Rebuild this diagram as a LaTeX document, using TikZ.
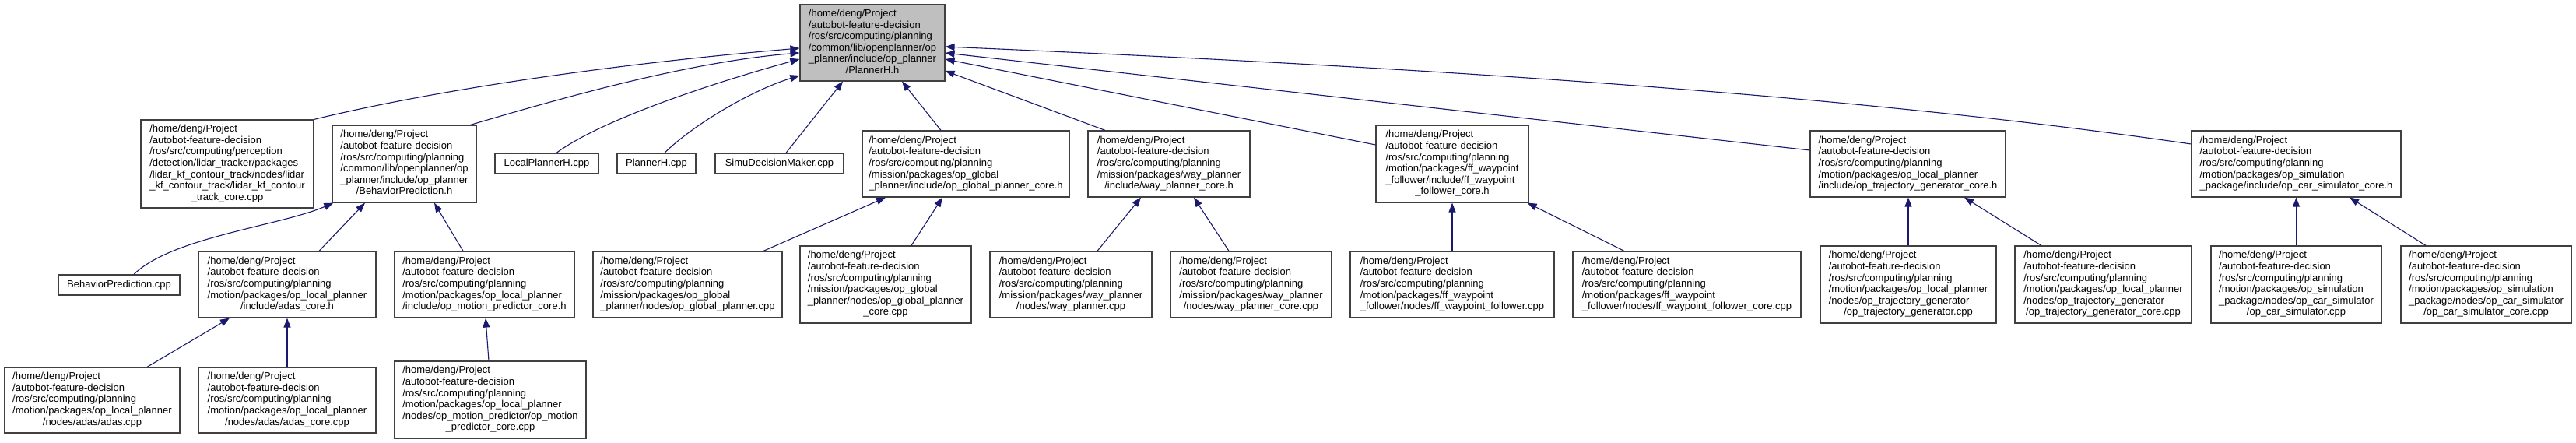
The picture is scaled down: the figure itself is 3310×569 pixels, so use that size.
\documentclass[tikz,border=0pt]{standalone}
\usepackage{fontspec}
\setmainfont{Liberation Sans}
\usetikzlibrary{arrows.meta}
\newcommand\dlines[2]{\begin{tabular}{@{}l@{}}#1\\\multicolumn{1}{@{}c@{}}{#2}\end{tabular}}
\newcommand\hd{/home/deng/Project\\/autobot-feature-decision\\/ros/src/computing/planning}
\definecolor{edgeblue}{RGB}{25,25,112}
\begin{document}
\begin{tikzpicture}[x=1pt,y=-1pt,
 box/.style={draw=black!75, line width=1.2pt, fill=white, inner sep=0pt, font=\fontsize{13}{14.6}\selectfont},
 rootbox/.style={box, fill=black!25},
 edge/.style={draw=edgeblue, line width=1.1pt, -{Triangle[length=12pt,width=9pt]}},
]
\fill[white] (0,0) rectangle (3310,569);
\useasboundingbox (0,0) rectangle (3310,569);

% level 0
\node[rootbox, minimum width=186pt, minimum height=98pt] (root) at (1121,55)
 {\dlines{\hd\\/common/lib/openplanner/op\\\_planner/include/op\_planner}{/PlannerH.h}};

% level 1
\node[box, minimum width=222pt, minimum height=113pt] (A) at (292,210.5)
 {\dlines{/home/deng/Project\\/autobot-feature-decision\\/ros/src/computing/perception\\/detection/lidar\_tracker/packages\\/lidar\_kf\_contour\_track/nodes/lidar\\\_kf\_contour\_track/lidar\_kf\_contour}{\_track\_core.cpp}};
\node[box, minimum width=185pt, minimum height=99pt] (B) at (519.5,210.5)
 {\dlines{\hd\\/common/lib/openplanner/op\\\_planner/include/op\_planner}{/BehaviorPrediction.h}};
\node[box, minimum width=133pt, minimum height=26pt] (C) at (702.5,210) {LocalPlannerH.cpp};
\node[box, minimum width=101pt, minimum height=26pt] (D) at (843.5,210) {PlannerH.cpp};
\node[box, minimum width=165pt, minimum height=26pt] (E) at (1001.5,210) {SimuDecisionMaker.cpp};
\node[box, minimum width=266pt, minimum height=85pt] (F) at (1241,210.5)
 {\dlines{\hd\\/mission/packages/op\_global}{\_planner/include/op\_global\_planner\_core.h}};
\node[box, minimum width=208pt, minimum height=85pt] (G) at (1502,210.5)
 {\dlines{\hd\\/mission/packages/way\_planner}{/include/way\_planner\_core.h}};
\node[box, minimum width=196pt, minimum height=99pt] (H) at (1866,210.5)
 {\dlines{\hd\\/motion/packages/ff\_waypoint\\\_follower/include/ff\_waypoint}{\_follower\_core.h}};
\node[box, minimum width=251pt, minimum height=85pt] (I) at (2451.5,210.5)
 {\dlines{\hd\\/motion/packages/op\_local\_planner}{/include/op\_trajectory\_generator\_core.h}};
\node[box, minimum width=269pt, minimum height=85pt] (J) at (2950.5,210.5)
 {\dlines{\hd\\/motion/packages/op\_simulation}{\_package/include/op\_car\_simulator\_core.h}};

% level 2
\node[box, minimum width=156pt, minimum height=26pt] (K) at (153,366) {BehaviorPrediction.cpp};
\node[box, minimum width=228pt, minimum height=85pt] (L) at (369,365.5)
 {\dlines{\hd\\/motion/packages/op\_local\_planner}{/include/adas\_core.h}};
\node[box, minimum width=231pt, minimum height=85pt] (M) at (622.5,365.5)
 {\dlines{\hd\\/motion/packages/op\_local\_planner}{/include/op\_motion\_predictor\_core.h}};
\node[box, minimum width=243pt, minimum height=85pt] (N) at (883.5,365.5)
 {\dlines{\hd\\/mission/packages/op\_global}{\_planner/nodes/op\_global\_planner.cpp}};
\node[box, minimum width=220pt, minimum height=99pt] (O) at (1138,365.5)
 {\dlines{\hd\\/mission/packages/op\_global\\\_planner/nodes/op\_global\_planner}{\_core.cpp}};
\node[box, minimum width=208pt, minimum height=85pt] (P) at (1376,365.5)
 {\dlines{\hd\\/mission/packages/way\_planner}{/nodes/way\_planner.cpp}};
\node[box, minimum width=207pt, minimum height=85pt] (Q) at (1607.5,365.5)
 {\dlines{\hd\\/mission/packages/way\_planner}{/nodes/way\_planner\_core.cpp}};
\node[box, minimum width=262pt, minimum height=85pt] (R) at (1866,365.5)
 {\dlines{\hd\\/motion/packages/ff\_waypoint}{\_follower/nodes/ff\_waypoint\_follower.cpp}};
\node[box, minimum width=293pt, minimum height=85pt] (S) at (2167.5,365.5)
 {\dlines{\hd\\/motion/packages/ff\_waypoint}{\_follower/nodes/ff\_waypoint\_follower\_core.cpp}};
\node[box, minimum width=226pt, minimum height=99pt] (T) at (2452,365.5)
 {\dlines{\hd\\/motion/packages/op\_local\_planner\\/nodes/op\_trajectory\_generator}{/op\_trajectory\_generator.cpp}};
\node[box, minimum width=227pt, minimum height=99pt] (U) at (2702.5,365.5)
 {\dlines{\hd\\/motion/packages/op\_local\_planner\\/nodes/op\_trajectory\_generator}{/op\_trajectory\_generator\_core.cpp}};
\node[box, minimum width=219pt, minimum height=99pt] (V) at (2950.5,365.5)
 {\dlines{\hd\\/motion/packages/op\_simulation\\\_package/nodes/op\_car\_simulator}{/op\_car\_simulator.cpp}};
\node[box, minimum width=219pt, minimum height=99pt] (W) at (3194.5,365.5)
 {\dlines{\hd\\/motion/packages/op\_simulation\\\_package/nodes/op\_car\_simulator}{/op\_car\_simulator\_core.cpp}};

% level 3
\node[box, minimum width=225pt, minimum height=84pt] (X) at (118.5,514)
 {\dlines{\hd\\/motion/packages/op\_local\_planner}{/nodes/adas/adas.cpp}};
\node[box, minimum width=228pt, minimum height=84pt] (Y) at (369,514)
 {\dlines{\hd\\/motion/packages/op\_local\_planner}{/nodes/adas/adas\_core.cpp}};
\node[box, minimum width=246pt, minimum height=99pt] (Z) at (630,513.5)
 {\dlines{\hd\\/motion/packages/op\_local\_planner\\/nodes/op\_motion\_predictor/op\_motion}{\_predictor\_core.cpp}};

% edges to root
\draw[edge] (A.north east) .. controls (553,117) and (778,83) .. ([yshift=-7pt]root.west);
\draw[edge] ([xshift=85pt]B.north) .. controls (705,131) and (878,80) .. ([yshift=-13pt]root.west);
\draw[edge] ([xshift=12.5pt]C.north) .. controls (775,152) and (928,103) .. ([yshift=-21pt]root.west);
\draw[edge] ([xshift=10.5pt]D.north) .. controls (885,165) and (960,118) .. ([yshift=-42pt]root.west);
\draw[edge] ([xshift=8.5pt]E.north) -- ([xshift=-38pt]root.south);
\draw[edge] ([xshift=-32pt]F.north) -- ([xshift=38pt]root.south);
\draw[edge] ([xshift=-82pt]G.north) -- ([yshift=-36pt]root.east);
\draw[edge] ([yshift=24.5pt]H.west) -- ([yshift=-21pt]root.east);
\draw[edge] ([yshift=17.5pt]I.west) -- ([yshift=-13pt]root.east);
\draw[edge] ([yshift=25.5pt]J.west) .. controls (2415,127) and (1914,90) .. ([yshift=-5pt]root.east);

% level 2 edges
\draw[edge] ([xshift=19pt]K.north) .. controls (220,305) and (360,290) .. ([xshift=2pt]B.south west);
\draw[edge] ([xshift=41pt]L.north) -- ([xshift=-50.5pt]B.south);
\draw[edge] ([xshift=-27.5pt]M.north) -- ([xshift=38.5pt]B.south);
\draw[edge] ([xshift=97.5pt]N.north) -- ([xshift=-103pt]F.south);
\draw[edge] ([xshift=33pt]O.north) -- ([xshift=-30pt]F.south);
\draw[edge] ([xshift=34pt]P.north) -- ([xshift=-36pt]G.south);
\draw[edge] ([xshift=-28.5pt]Q.north) -- ([xshift=32pt]G.south);
\draw[edge] (R.north) -- (H.south);
\draw[edge] ([xshift=-80.5pt]S.north) -- ([xshift=-2pt]H.south east);
\draw[edge] (T.north) -- (T.north |- I.south);
\draw[edge] ([xshift=-79.5pt]U.north) -- ([xshift=72.5pt]I.south);
\draw[edge] (V.north) -- (J.south);
\draw[edge] ([xshift=-77.5pt]W.north) -- ([xshift=68.5pt]J.south);

% level 3 edges
\draw[edge] ([xshift=70.5pt]X.north) -- ([xshift=-74pt]L.south);
\draw[edge] (Y.north) -- (L.south);
\draw[edge] ([xshift=-2pt]Z.north) -- ([xshift=1.5pt]M.south);
\end{tikzpicture}
\end{document}
